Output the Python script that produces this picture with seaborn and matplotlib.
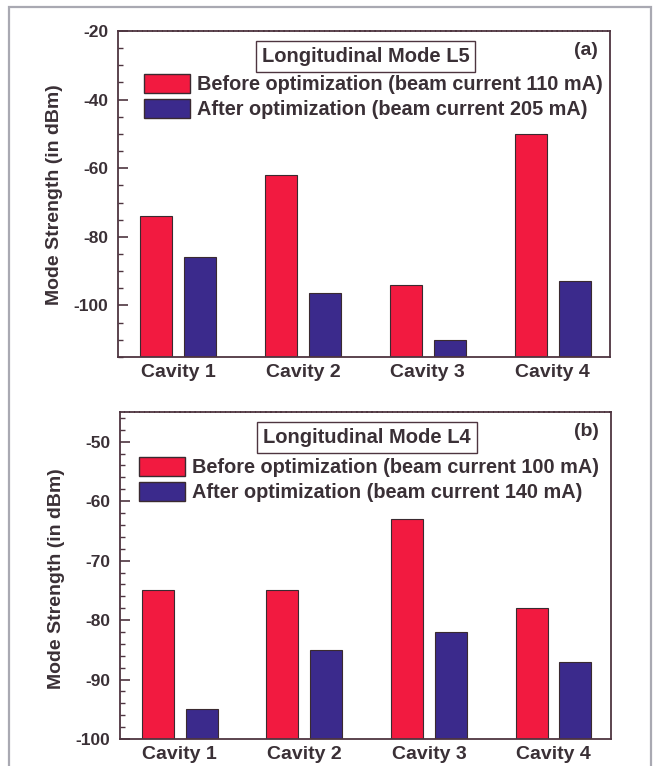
import pandas as pd
import matplotlib
matplotlib.use('Agg')
import matplotlib.pyplot as plt
import seaborn as sns
from matplotlib.patches import Patch, Rectangle
from matplotlib.ticker import MultipleLocator

cavities = ['Cavity 1', 'Cavity 2', 'Cavity 3', 'Cavity 4']

# panel (a), mode L5
l5_before = [-74, -62, -94, -50]
l5_after = [-86, -96.5, -110, -93]
l5_labels = ['Before optimization (beam current 110 mA)',
             'After optimization (beam current 205 mA)']

# panel (b), mode L4
l4_before = [-75, -75, -63, -78]
l4_after = [-95, -85, -82, -87]
l4_labels = ['Before optimization (beam current 100 mA)',
             'After optimization (beam current 140 mA)']

red = '#f21a40'
blue = '#3b2a8c'
ink = '#3a3036'
spine_col = '#4e3540'

sns.set_style('white')
plt.rcParams['font.family'] = ['Liberation Sans', 'DejaVu Sans']
plt.rcParams['font.weight'] = 'bold'
plt.rcParams['axes.unicode_minus'] = False
plt.rcParams['text.color'] = ink
plt.rcParams['axes.labelcolor'] = ink
plt.rcParams['xtick.color'] = ink
plt.rcParams['ytick.color'] = ink

fig = plt.figure(figsize=(6.56, 7.66), dpi=100)


def panel(rect, before, after, labels, title, tag, ylim, major, minor, leg_xy, ylab_y):
    ax = fig.add_axes(rect)
    bottom = ylim[0]
    df = pd.DataFrame({
        'cavity': cavities * 2,
        'cond': [labels[0]] * 4 + [labels[1]] * 4,
        'value': before + after,
    })
    df['height'] = df['value'] - bottom
    sns.barplot(data=df, x='cavity', y='height', hue='cond',
                palette=[red, blue], saturation=1, width=0.704, gap=0.27,
                bottom=bottom, edgecolor='#3a2a30', linewidth=0.8,
                legend=False, ax=ax)
    ax.set_ylim(*ylim)
    ax.set_xlim(-0.48, 3.46)
    ax.yaxis.set_major_locator(MultipleLocator(major))
    ax.yaxis.set_minor_locator(MultipleLocator(minor))
    ax.tick_params(axis='y', which='major', direction='in', length=7,
                   width=1.2, pad=7, labelsize=12.5, color=spine_col, left=True)
    ax.tick_params(axis='y', which='minor', direction='in', length=3.5,
                   width=1.0, color=spine_col, left=True)
    ax.tick_params(axis='x', length=0, pad=5, labelsize=14)
    ax.set_xlabel('')
    ax.set_ylabel('Mode Strength (in dBm)', fontsize=14, fontweight='bold')
    ax.yaxis.set_label_coords(-0.112, ylab_y)
    for s in ax.spines.values():
        s.set_color(spine_col)
        s.set_linewidth(1.3)
        s.set_visible(True)
    ax.spines['top'].set_linestyle((0, (2, 0.8)))

    handles = [Patch(facecolor=red, edgecolor='#3a2a30', linewidth=1.0),
               Patch(facecolor=blue, edgecolor='#3a2a30', linewidth=1.0)]
    ax.legend(handles, labels, loc='upper left', bbox_to_anchor=leg_xy,
              frameon=False, borderpad=0, borderaxespad=0,
              handlelength=2.3, handleheight=1.1, handletextpad=0.35,
              labelspacing=0.22, prop={'size': 14.3, 'weight': 'bold'})
    ax.text(0.503, 0.922, title, transform=ax.transAxes, ha='center',
            va='center', fontsize=14.5, fontweight='bold',
            bbox=dict(boxstyle='square,pad=0.3', facecolor='white',
                      edgecolor=spine_col, linewidth=1.0))
    ax.text(0.95, 0.94, tag, transform=ax.transAxes, ha='center',
            va='center', fontsize=14, fontweight='bold')
    return ax


panel([0.180, 0.534, 0.750, 0.4256], l5_before, l5_after, l5_labels,
      'Longitudinal Mode L5', '(a)', (-115, -20), 20, 5,
      (0.053, 0.868), 0.497)
panel([0.183, 0.0352, 0.748, 0.427], l4_before, l4_after, l4_labels,
      'Longitudinal Mode L4', '(b)', (-100, -45), 10, 2,
      (0.039, 0.862), 0.49)

# page frame around both panels
fig.add_artist(Rectangle((9 / 656, -0.05), (651 - 9) / 656, 1.05 - 7 / 766,
                         transform=fig.transFigure, fill=False,
                         edgecolor='#a9a9b2', linewidth=1.6))

fig.savefig('out.png', dpi=100)
